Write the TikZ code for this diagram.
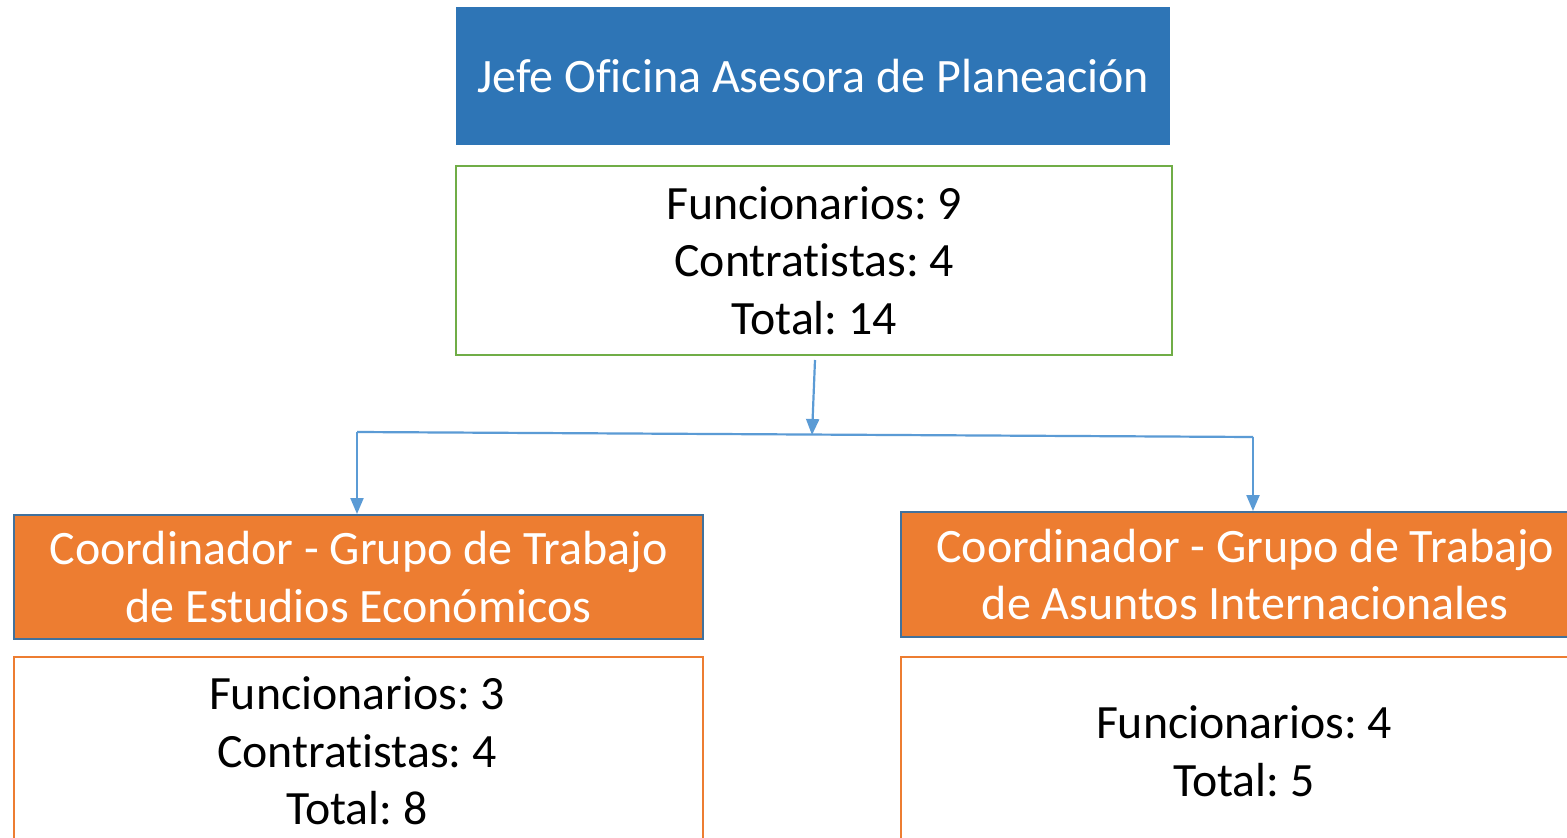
\documentclass[tikz,border=0pt]{standalone}
\usepackage{fontspec}
\setmainfont[Ligatures={NoCommon}]{Carlito}
\usetikzlibrary{arrows.meta}
\frenchspacing
\definecolor{hdrblue}{HTML}{2E75B6}
\definecolor{linkblue}{HTML}{5B9BD5}
\definecolor{edgeblue}{HTML}{41719C}
\definecolor{boxgreen}{HTML}{70AD47}
\definecolor{boxorange}{HTML}{ED7D31}
\tikzset{
  bigtext/.style={font=\fontsize{47.8}{57.5}\selectfont, align=center, inner sep=0pt},
  titletext/.style={font=\fontsize{48.0}{57.5}\selectfont, align=center, inner sep=0pt},
  headbox/.style={titletext, fill=hdrblue, text=white, anchor=north west},
  coordbox/.style={titletext, fill=boxorange, draw=edgeblue, line width=2.4pt, text=white, anchor=north west},
  countgreen/.style={bigtext, draw=boxgreen, line width=2.4pt, fill=white, anchor=north west},
  countorange/.style={bigtext, draw=boxorange, line width=2.4pt, fill=white, anchor=north west},
  link/.style={draw=linkblue, line width=2.2pt},
  linkarrow/.style={link, -{Triangle[width=13pt,length=16pt]}}
}
\begin{document}
\begin{tikzpicture}[x=1pt,y=-1pt]
\useasboundingbox (0,0) rectangle (1567,838);
\clip (0,0) rectangle (1567,838);
\fill[white] (0,0) rectangle (1567,838);
% top header
\node[headbox, minimum width=714pt, minimum height=138pt] (jefe) at (456,7) {Jefe Oficina Asesora de Planeación};
\node[countgreen, minimum width=716pt, minimum height=189pt] (tot) at (455,165) {Funcionarios: 9\\Contratistas: 4\\Total: 14};
% left branch
\node[coordbox, minimum width=689pt, minimum height=124pt] (estud) at (13,514) {Coordinador - Grupo de Trabajo\\de Estudios Económicos};
\node[countorange, minimum width=689pt, minimum height=230pt] (estudn) at (13,656) {};
\node[bigtext, anchor=center] (estudt) at (357,751) {Funcionarios: 3\\Contratistas: 4\\Total: 8};
% right branch
\node[coordbox, minimum width=688pt, minimum height=125pt] (asunt) at (900,511) {Coordinador - Grupo de Trabajo\\de Asuntos Internacionales};
\node[countorange, minimum width=688pt, minimum height=230pt] (asuntn) at (900,656) {};
\node[bigtext, anchor=center] (asuntt) at (1244,751) {Funcionarios: 4\\Total: 5};
% connectors
\coordinate (j) at (812,435);
\coordinate (jl) at (357,432);
\coordinate (jr) at (1253,437);
\draw[linkarrow] (815,360) -- (j);
\draw[link] (jl) -- (jr);
\draw[linkarrow] (jl) -- (jl |- estud.north);
\draw[linkarrow] (jr) -- (jr |- asunt.north);
\end{tikzpicture}
\end{document}
